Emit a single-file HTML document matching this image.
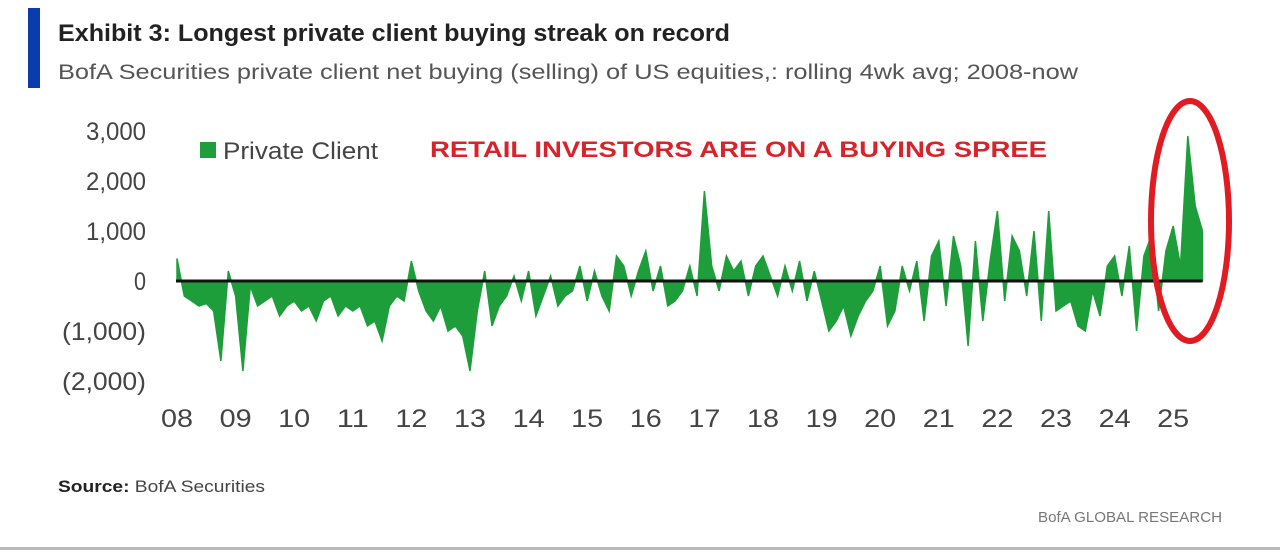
<!DOCTYPE html>
<html><head><meta charset="utf-8"><style>
body{margin:0;width:1280px;height:552px;background:#fff;overflow:hidden;font-family:"Liberation Sans",sans-serif;position:relative}
.t{position:absolute;white-space:nowrap}
</style></head><body>
<div class="t" style="left:28px;top:8px;width:12px;height:80px;background:#0b3cae"></div>
<svg id="c" width="1280" height="552" style="position:absolute;left:0;top:0">
<text x="58" y="41" font-size="24" font-weight="bold" fill="#222" textLength="672" lengthAdjust="spacingAndGlyphs" font-family="Liberation Sans, sans-serif">Exhibit 3: Longest private client buying streak on record</text>
<text x="58" y="79" font-size="21" fill="#555" textLength="1020" lengthAdjust="spacingAndGlyphs" font-family="Liberation Sans, sans-serif">BofA Securities private client net buying (selling) of US equities,: rolling 4wk avg;  2008-now</text>
<text x="58" y="492" font-size="17" fill="#444" textLength="207" lengthAdjust="spacingAndGlyphs" font-family="Liberation Sans, sans-serif"><tspan font-weight="bold" fill="#222">Source:</tspan> BofA Securities</text>
<text x="1038" y="522" font-size="15" fill="#777" textLength="184" lengthAdjust="spacingAndGlyphs" font-family="Liberation Sans, sans-serif">BofA GLOBAL RESEARCH</text>
</svg>
<div class="t" style="left:0;top:547px;width:1280px;height:3px;background:#bbb"></div>
<script>
const years=["08","09","10","11","12","13","14","15","16","17","18","19","20","21","22","23","24","25"];
const yTicks=[3000,2000,1000,0,-1000,-2000];
const yTickLabels=["3,000","2,000","1,000","0","(1,000)","(2,000)"];
const values=[
450,-300,-400,-500,-450,-600,-1600,200,
-300,-1800,-100,-500,-400,-300,-700,-500,
-400,-600,-500,-800,-400,-300,-700,-500,
-600,-500,-900,-800,-1200,-500,-300,-400,
400,-200,-600,-800,-500,-1000,-900,-1100,
-1800,-600,200,-900,-500,-300,100,-400,
200,-700,-300,100,-500,-300,-200,300,
-400,200,-300,-600,500,300,-300,200,
600,-200,300,-500,-400,-200,300,-300,
1800,300,-200,500,200,400,-300,300,
500,100,-300,300,-200,400,-400,200,
-400,-1000,-800,-500,-1100,-700,-400,-200,
300,-900,-600,300,-200,400,-800,500,
800,-500,900,300,-1300,800,-800,400,
1400,-400,900,600,-300,1000,-800,1400,
-600,-500,-400,-900,-1000,-200,-700,300,
500,-300,700,-1000,500,900,-600,600,
1100,300,2900,1500,1000];
const ptsPerYear=8;
const x0=177,yearW=58.6;
const X=i=>x0+i*yearW/ptsPerYear;
const Y=v=>281-v*0.05;
const svg=document.getElementById('c');
const NS='http://www.w3.org/2000/svg';
function mk(tag,attrs,txt){const e=document.createElementNS(NS,tag);for(const k in attrs)e.setAttribute(k,attrs[k]);if(txt!==undefined)e.textContent=txt;svg.appendChild(e);return e;}
yTicks.forEach((v,i)=>{const t=mk('text',{x:146,y:Y(v)+9,'text-anchor':'end','font-size':25,fill:'#444','font-family':'Liberation Sans, sans-serif',textLength:yTickLabels[i].length*12,lengthAdjust:'spacingAndGlyphs'},yTickLabels[i]);

});
years.forEach((yr,i)=>{const t=mk('text',{x:x0+i*yearW,y:427,'text-anchor':'middle','font-size':25,fill:'#444','font-family':'Liberation Sans, sans-serif',textLength:32,lengthAdjust:'spacingAndGlyphs'},yr);

});
let d='M'+X(0)+','+Y(0);
values.forEach((v,i)=>{d+=' L'+X(i).toFixed(1)+','+Y(v).toFixed(1);});
d+=' L'+X(values.length-1)+','+Y(0)+' Z';
const a=mk('path',{d:d,fill:'#1e9e3a',stroke:'#1e9e3a','stroke-width':1.5,'stroke-linejoin':'miter'});


const z=mk('line',{x1:176,x2:X(values.length-1),y1:Y(0),y2:Y(0),stroke:'#111','stroke-width':3});


const ls=mk('rect',{x:200,y:142,width:16,height:16,fill:'#1e9e3a'});


const lt=mk('text',{x:223,y:159,'font-size':24,fill:'#444','font-family':'Liberation Sans, sans-serif',textLength:155,lengthAdjust:'spacingAndGlyphs'},'Private Client');


const an=mk('text',{x:430,y:157,'font-size':22,'font-weight':'bold',fill:'#d8232a','font-family':'Liberation Sans, sans-serif',textLength:617,lengthAdjust:'spacingAndGlyphs'},'RETAIL INVESTORS ARE ON A BUYING SPREE');


const el=mk('ellipse',{cx:1190,cy:221,rx:39,ry:120,fill:'none',stroke:'#e01b22','stroke-width':6});


</script>
</body></html>
